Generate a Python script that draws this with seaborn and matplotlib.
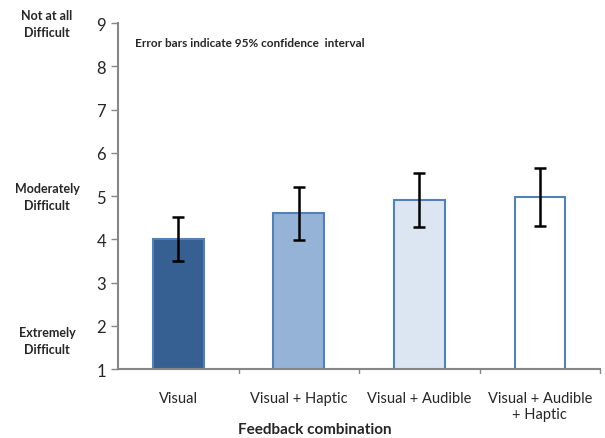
import pandas as pd
import matplotlib
matplotlib.use("Agg")
import matplotlib.pyplot as plt
import seaborn as sns

categories = ["Visual", "Visual + Haptic", "Visual + Audible", "Visual + Audible\n+ Haptic"]
means = [4.0, 4.62, 4.92, 4.98]
ci_low = [3.50, 3.98, 4.28, 4.32]
ci_high = [4.51, 5.22, 5.53, 5.64]
colors = ["#376092", "#95B3D7", "#DCE6F2", "#FFFFFF"]

sns.set_style("white")
plt.rcParams["font.family"] = ["Lato", "DejaVu Sans"]

df = pd.DataFrame({"combo": categories, "score": means})

fig = plt.figure(figsize=(6.05, 4.39), dpi=100)
ax = fig.add_axes([0.195, 0.157, 0.797, 0.788])

sns.barplot(data=df, x="combo", y="score", hue="combo", palette=colors,
            saturation=1, legend=False, errorbar=None, width=0.42,
            edgecolor="#4F81BD", linewidth=1.5, ax=ax)

# error bars (95% CI)
yerr = [[m - lo for m, lo in zip(means, ci_low)], [hi - m for m, hi in zip(means, ci_high)]]
ax.errorbar(range(len(categories)), means, yerr=yerr, fmt="none",
            ecolor="black", elinewidth=1.8, capsize=4, capthick=1.8)

ax.set_ylim(1, 9)
ax.set_xlim(-0.5, 3.5)
ax.set_yticks(range(1, 10))
ax.tick_params(axis="y", labelsize=12, length=5, width=1, color="#868686", direction="out", left=True)
ax.tick_params(axis="x", labelsize=10.5, length=0, pad=16)
for s in ["top", "right"]:
    ax.spines[s].set_visible(False)
for s in ["left", "bottom"]:
    ax.spines[s].set_color("#868686")
    ax.spines[s].set_linewidth(1.5)
for xt in [0.5, 1.5, 2.5, 3.5]:
    ax.plot([xt, xt], [1, 0.9], color="#868686", lw=1, clip_on=False)

ax.set_xlabel("")
ax.set_ylabel("")
fig.text(0.52, 1 - 430 / 439, "Feedback combination", fontsize=11, fontweight="bold",
         ha="center", va="center")

ax.text(0.035, 0.945, "Error bars indicate 95% confidence  interval", transform=ax.transAxes,
        fontsize=8.5, fontweight="bold", va="center")

for y, lab in [(9, "Not at all\nDifficult"), (5, "Moderately\nDifficult"), (1.65, "Extremely\nDifficult")]:
    ax.annotate(lab, xy=(47 / 605, y), xycoords=("figure fraction", "data"),
                ha="center", va="center", fontsize=9, fontweight="bold",
                linespacing=1.5, annotation_clip=False)

fig.savefig("out.png", dpi=100)
